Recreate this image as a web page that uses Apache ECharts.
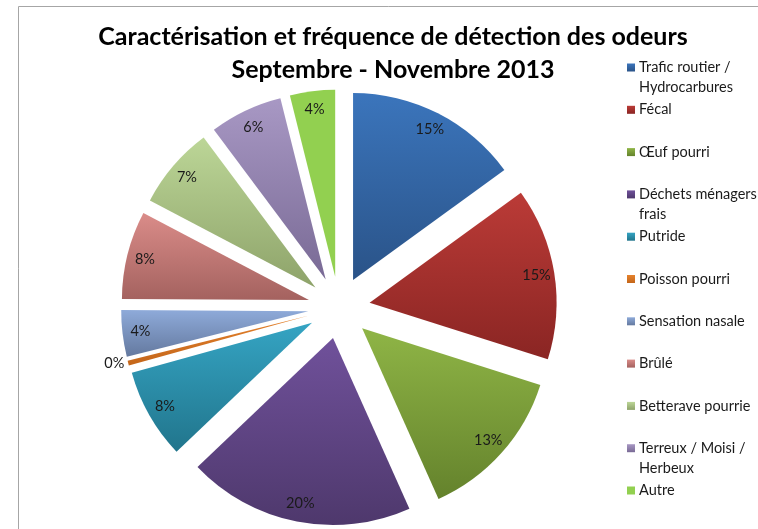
<!DOCTYPE html>
<html>
<head>
<meta charset="utf-8">
<script src="https://cdn.jsdelivr.net/npm/echarts@6/dist/echarts.min.js"></script>
<style>
html,body{margin:0;padding:0;background:#fff;}
#chart{width:758px;height:529px;}
</style>
</head>
<body>
<div id="chart"></div>
<script>
// ---- data ----
var categories = [
  'Trafic routier /\nHydrocarbures',
  'Fécal',
  'Œuf pourri',
  'Déchets ménagers\nfrais',
  'Putride',
  'Poisson pourri',
  'Sensation nasale',
  'Brûlé',
  'Betterave pourrie',
  'Terreux / Moisi /\nHerbeux',
  'Autre'
];
var values = [15.0, 14.9, 13.4, 19.6, 7.8, 0.4, 4.0, 7.6, 7.1, 6.3, 3.9];
var colorsTop = ['#3b75bc','#bb3b37','#8fb546','#70519b','#35a4c3','#e5822c','#8eaad9','#da8c89','#bcd697','#a898c4','#92d050'];
var colorsBottom = ['#2a5388','#8a2523','#64822c','#4e386c','#21758c','#c4661a','#64799f','#a4625f','#8ea36a','#796a95','#92d050'];
var titleLines = ['Caractérisation et fréquence de détection des odeurs', 'Septembre - Novembre 2013'];

// ---- chart ----
var chart = echarts.init(document.getElementById('chart'), null, {renderer: 'canvas'});
var FONT = 'Lato, "Open Sans", sans-serif';

function grad(i) {
  return new echarts.graphic.LinearGradient(0, 0, 0, 1, [
    {offset: 0, color: colorsTop[i]},
    {offset: 1, color: colorsBottom[i]}
  ]);
}

var mainData = categories.map(function (n, i) {
  return {
    name: n, value: values[i], selected: true,
    itemStyle: {color: grad(i)},
    select: {itemStyle: {color: grad(i), borderWidth: 0}}
  };
});
var labelData = categories.map(function (n, i) {
  var d = {name: n, value: values[i], selected: true};
  if (values[i] < 1) {
    d.label = {position: 'outside', distanceToLabelLine: 2, offset: [1, 7]};
    d.labelLine = {show: false, length: 4, length2: 0};
  }
  return d;
});

var center = [339, 307.6];
var offset = 31;

var option = {
  animation: false,
  backgroundColor: '#ffffff',
  title: {
    text: titleLines.join('\n'),
    left: 393,
    top: 20.5,
    textAlign: 'center',
    padding: 0,
    textStyle: {fontFamily: FONT, fontWeight: 'bold', fontSize: 25, lineHeight: 33, color: '#000'}
  },
  legend: {
    orient: 'vertical',
    left: 627,
    top: 37.5,
    padding: 0,
    itemGap: -17.7,
    itemWidth: 8,
    itemHeight: 8,
    icon: 'rect',
    selectedMode: false,
    data: categories,
    formatter: function (name) {
      return name.indexOf('\n') >= 0 ? '\n' + name : '\n' + name + '\n';
    },
    textStyle: {fontFamily: FONT, fontSize: 14.5, lineHeight: 20, color: '#1a1a1a', padding: [0, 0, 0, -1]}
  },
  graphic: [{
    type: 'rect', silent: true, z: -1,
    shape: {x: 18.5, y: 6.5, width: 800, height: 600},
    style: {fill: 'none', stroke: '#a6a6a6', lineWidth: 1}
  }],
  series: [{
    type: 'pie',
    center: center,
    radius: [0, 187],
    startAngle: 90,
    clockwise: true,
    selectedMode: 'multiple',
    selectedOffset: offset,
    silent: true,
    emphasis: {disabled: true, scale: false},
    label: {show: false},
    labelLine: {show: false},
    itemStyle: {borderWidth: 0},
    data: mainData
  }, {
    type: 'pie',
    center: center,
    radius: [147, 185],
    startAngle: 90,
    clockwise: true,
    selectedMode: 'multiple',
    selectedOffset: offset,
    silent: true,
    emphasis: {disabled: true, scale: false},
    itemStyle: {color: 'rgba(0,0,0,0)', borderWidth: 0},
    select: {itemStyle: {color: 'rgba(0,0,0,0)', borderWidth: 0}},
    label: {
      show: true, position: 'inside', offset: [0, 3],
      fontFamily: FONT, fontSize: 14.5, color: '#1a1a1a',
      formatter: function (p) { return Math.round(p.percent) + '%'; }
    },
    labelLine: {show: false},
    data: labelData
  }]
};
chart.setOption(option);
</script>
</body>
</html>
